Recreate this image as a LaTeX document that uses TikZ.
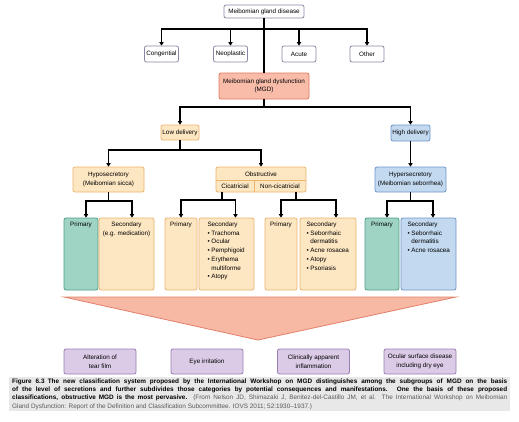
\documentclass[tikz,border=0pt]{standalone}
\usepackage{fontspec}
\setmainfont{Liberation Sans}
\usetikzlibrary{arrows.meta}

\pgfdeclarelayer{last}
\pgfdeclarelayer{background}
\pgfsetlayers{last,background,main}

\definecolor{plain edge}{HTML}{8C86A6}
\definecolor{mgd area}{HTML}{F8BCA8}
\definecolor{mgd edge}{HTML}{E07A62}
\definecolor{low area}{HTML}{FDE6C2}
\definecolor{low edge}{HTML}{EDB46E}
\definecolor{high area}{HTML}{C3D9F0}
\definecolor{high edge}{HTML}{6F96C6}
\definecolor{prim area}{HTML}{9FD4C4}
\definecolor{prim edge}{HTML}{4E9F8A}
\definecolor{wedge area}{HTML}{F8B9A4}
\definecolor{wedge edge}{HTML}{E3806A}
\definecolor{sign area}{HTML}{DBCBE7}
\definecolor{sign edge}{HTML}{9B7DB6}
\definecolor{caption area}{HTML}{E8E8E8}

\newcommand\colbody[2]{\parbox[c][64pt][t]{#1}{#2}}

\tikzset{
  box/.style={draw, rounded corners=2pt, line width=0.8pt, inner sep=1pt, align=center,
    font=\fontsize{6.3}{8.7}\selectfont},
  plain/.style={box, draw=plain edge, fill=white},
  mgdbox/.style={box, draw=mgd edge, fill=mgd area},
  lowbox/.style={box, draw=low edge, fill=low area},
  highbox/.style={box, draw=high edge, fill=high area},
  primbox/.style={box, draw=prim edge, fill=prim area},
  signbox/.style={box, draw=sign edge, fill=sign area, minimum height=25pt},
  col/.style={minimum height=72pt, inner sep=0pt},
  cell/.style={inner sep=0pt, font=\fontsize{6.3}{8.7}\selectfont}
  }
\tikzstyle{edge} = [draw, line width=1.3pt, -]
\tikzstyle{arrow} = [edge, -{Triangle[length=3.4pt,width=4.2pt]}]

\begin{document}
\begin{tikzpicture}[x=1pt,y=-1pt]
  \useasboundingbox (0,0) rectangle (519,421);
  \begin{pgfonlayer}{last}
    \fill[white] (0,0) rectangle (519,421);
  \end{pgfonlayer}

  % The top of the tree
  \node[plain, minimum width=80pt, minimum height=13pt] (disease) at (264,11.5) {Meibomian gland disease};
  \foreach \pos/\name/\txt in {161.5/cong/Congential, 230.5/neo/Neoplastic, 299/acute/Acute, 367/other/Other}
    \node[plain, minimum width=34pt, minimum height=16pt] (\name) at (\pos,54) {\txt};
  \node[mgdbox, minimum width=90pt, minimum height=26pt] (mgd) at (264,86) {Meibomian gland dysfunction\\(MGD)};

  % Delivery
  \node[lowbox, minimum width=38pt, minimum height=15pt] (low) at (180,132.5) {Low delivery};
  \node[highbox, minimum width=39pt, minimum height=16pt] (high) at (410.5,133) {High delivery};

  % Secretion
  \node[lowbox, minimum width=71pt, minimum height=25pt] (hypo) at (108.5,179.5) {Hyposecretory\\(Meibomian sicca)};
  \node[lowbox, minimum width=90pt, minimum height=25pt] (obs) at (261,179.5) {};
  \node[cell] (obstitle) at (261,174) {Obstructive};
  \node[cell, minimum width=38pt, minimum height=12pt] (cic) at (235,186) {Cicatricial};
  \node[cell, minimum width=52pt, minimum height=12pt] (noncic) at (280,186) {Non-cicatricial};
  \draw[low edge, line width=0.8pt] (216,180) -- (306,180) (254,180) -- (254,192);
  \node[highbox, minimum width=71pt, minimum height=25pt] (hyper) at (410.5,179.5) {Hypersecretory\\(Meibomian seborrhea)};

  % The columns
  \node[primbox, col, minimum width=34pt] (hprim) at (81,254) {\colbody{32pt}{\centering Primary}};
  \node[lowbox, col, minimum width=55pt] (hsec) at (126.5,254) {\colbody{54pt}{\centering Secondary\\(e.g. medication)}};
  \node[lowbox, col, minimum width=32pt] (cprim) at (181,254) {\colbody{31pt}{\centering Primary}};
  \node[lowbox, col, minimum width=55pt] (csec) at (226.5,254) {\colbody{54pt}{\raggedright\leftskip=8pt
    Secondary\\\textbullet\ Trachoma\\\textbullet\ Ocular\\\textbullet\ Pemphigoid\\\textbullet\ Erythema\\
    \phantom{\textbullet\ }multiforme\\\textbullet\ Atopy}};
  \node[lowbox, col, minimum width=32pt] (nprim) at (281,254) {\colbody{31pt}{\centering Primary}};
  \node[lowbox, col, minimum width=56pt] (nsec) at (328,254) {\colbody{55pt}{\raggedright\leftskip=6pt
    Secondary\\\textbullet\ Seborrhaic\\\phantom{\textbullet\ }dermatitis\\\textbullet\ Acne rosacea\\
    \textbullet\ Atopy\\\textbullet\ Psoriasis}};
  \node[primbox, col, minimum width=34pt] (rprim) at (382,254) {\colbody{32pt}{\centering Primary}};
  \node[highbox, col, minimum width=55pt] (rsec) at (428.5,254) {\colbody{54pt}{\raggedright\leftskip=6pt
    Secondary\\\textbullet\ Seborrhaic\\\phantom{\textbullet\ }dermatitis\\\textbullet\ Acne rosacea}};

  % The wedge and what it leads to
  \begin{pgfonlayer}{background}
    \filldraw[fill=wedge area, draw=wedge edge, line width=0.8pt] (64,297) -- (456,297) -- (258,340) -- cycle;
  \end{pgfonlayer}
  \foreach \pos/\name/\txt in {100/alter/{Alteration of\\tear film}, 207/irrit/{Eye irritation},
      313.5/inflam/{Clinically apparent\\inflammation}, 420/dryeye/{Ocular surface disease\\including dry eye}}
    \node[signbox, minimum width=72pt] (\name) at (\pos,361.5) {\txt};

  % The caption
  \node[anchor=north west, fill=caption area, inner xsep=3pt, inner ysep=1.2pt, text width=495pt,
    align=justify, font=\fontsize{6.4}{8.4}\selectfont] (caption) at (9,377) {%
    \textbf{Figure 6.3\enspace The new classification system proposed by the International Workshop on MGD distinguishes among the subgroups of MGD on the basis\linebreak
    of the level of secretions and further subdivides those categories by potential consequences and manifestations. One the basis of these proposed\linebreak
    classifications, obstructive MGD is the most pervasive.} {\color{black!65}(From Nelson JD, Shimazaki J, Benitez-del-Castillo JM, et al. The International Workshop on Meibomian\linebreak
    Gland Dysfunction: Report of the Definition and Classification Subcommittee. IOVS 2011; 52:1930--1937.)}};

  % The connections between them
  \coordinate (split1) at (264,29);
  \coordinate (split2) at (264,107);
  \coordinate (split3) at (180,150);
  \coordinate (split4) at (108.5,201);
  \coordinate (split5) at (222,200);
  \coordinate (split6) at (296,200);
  \coordinate (split7) at (410.5,201);

  \path[edge] (disease) -- (mgd);
  \foreach \name in {cong,neo,acute,other}
    \path[arrow] (split1) -| (\name);
  \path[edge] (mgd) -- (split2);
  \foreach \name in {low,high}
    \path[arrow] (split2) -| (\name);
  \path[edge] (low) -- (split3);
  \foreach \name in {hypo,obs}
    \path[arrow] (split3) -| (\name);
  \path[arrow] (high) -- (hyper);

  \path[edge] (hypo) -- (split4);
  \path[arrow] (split4) -| ([xshift=5pt]hprim.north);
  \path[arrow] (split4) -| ([xshift=5.5pt]hsec.north);
  \path[edge] (split5 |- cic.south) -- (split5);
  \path[arrow] (split5) -| (cprim);
  \path[arrow] (split5) -| ([xshift=9pt]csec.north);
  \path[edge] (split6 |- noncic.south) -- (split6);
  \path[arrow] (split6) -| (nprim);
  \path[arrow] (split6) -| ([xshift=8pt]nsec.north);
  \path[edge] (hyper) -- (split7);
  \path[arrow] (split7) -| ([xshift=5pt]rprim.north);
  \path[arrow] (split7) -| ([xshift=4.5pt]rsec.north);
\end{tikzpicture}
\end{document}
